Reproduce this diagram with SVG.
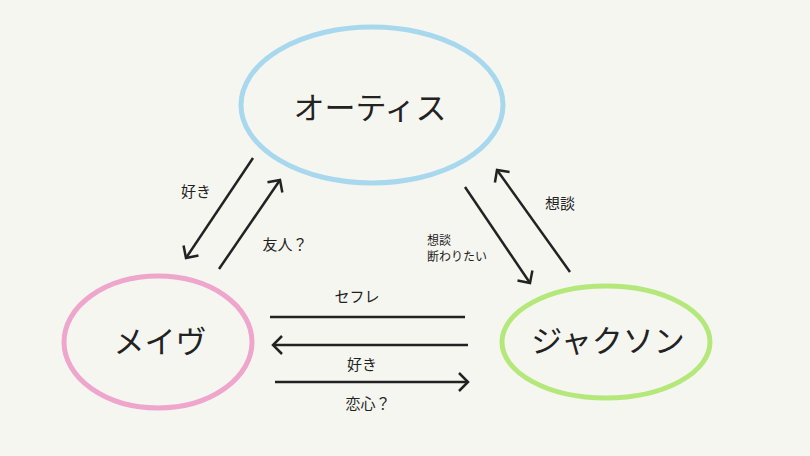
<svg xmlns="http://www.w3.org/2000/svg" width="810" height="456" viewBox="0 0 810 456">
<style>
.n{fill:none;stroke-width:5}
.t{font-family:"Noto Sans CJK JP","Noto Sans",sans-serif;fill:#222;text-anchor:middle}
.big{font-size:31px}
.sm{font-size:15px}
.xs{font-size:12px;text-anchor:start}
.c{stroke:#222;stroke-width:2.5;fill:none}
</style>
<defs>
<marker id="a" markerUnits="userSpaceOnUse" markerWidth="24" markerHeight="24" refX="12" refY="12" orient="auto">
<path d="M3,3 L12,12 L3,21" fill="none" stroke="#222" stroke-width="2.5"/>
</marker>
</defs>
<rect width="810" height="456" fill="#f6f6f1"/>
<g id="otis"><ellipse class="n" cx="372" cy="105" rx="131" ry="78" stroke="#a8d8ee"/><text class="t big" x="370" y="119">オーティス</text></g>
<g id="maeve"><ellipse class="n" cx="158" cy="342" rx="94" ry="66" stroke="#eea6cc"/><text class="t big" x="160" y="353">メイヴ</text></g>
<g id="jackson"><ellipse class="n" cx="606" cy="342" rx="104" ry="56" stroke="#b4e87a"/><text class="t big" x="608" y="352">ジャクソン</text></g>
<g id="connectors">
<line class="c" x1="253" y1="158" x2="186" y2="258" marker-end="url(#a)"/>
<line class="c" x1="219" y1="269" x2="280" y2="180" marker-end="url(#a)"/>
<line class="c" x1="465" y1="187" x2="530" y2="283" marker-end="url(#a)"/>
<line class="c" x1="570" y1="272" x2="497" y2="170" marker-end="url(#a)"/>
<line class="c" x1="270" y1="317" x2="465" y2="317"/>
<line class="c" x1="468" y1="345" x2="273" y2="345" marker-end="url(#a)"/>
<line class="c" x1="275" y1="382" x2="468" y2="382" marker-end="url(#a)"/>
</g>
<g id="labels">
<text class="t sm" x="196" y="197">好き</text>
<text class="t sm" x="285" y="250">友人？</text>
<text class="t sm" x="560" y="209">想談</text>
<text class="t xs" x="427" y="245">想談</text>
<text class="t xs" x="427" y="261">断わりたい</text>
<text class="t sm" x="357" y="302">セフレ</text>
<text class="t sm" x="362" y="370">好き</text>
<text class="t sm" x="368" y="409">恋心？</text>
</g>
</svg>
